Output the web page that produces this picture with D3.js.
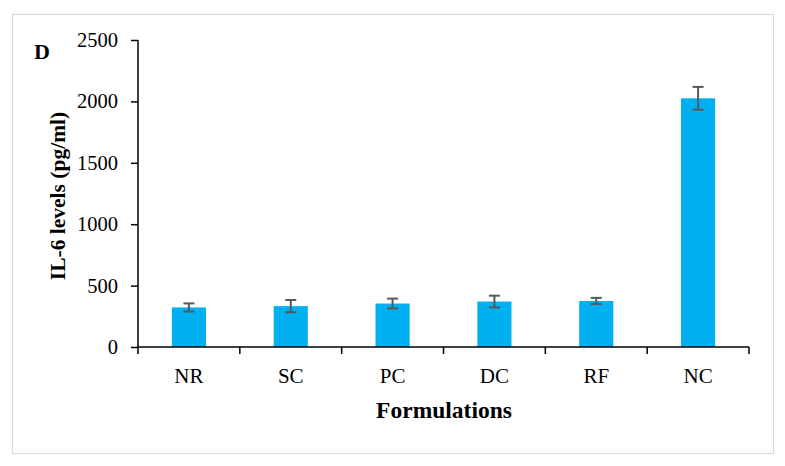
<!DOCTYPE html>
<html>
<head>
<meta charset="utf-8">
<script src="https://cdn.jsdelivr.net/npm/d3@7"></script>
<style>
  html, body { margin: 0; padding: 0; background: #fff; }
  svg { display: block; }
  text { font-family: "Liberation Serif", "Times New Roman", serif; fill: #000; }
</style>
</head>
<body>
<svg id="chart" width="785" height="466"></svg>
<script>
const categories = ["NR", "SC", "PC", "DC", "RF", "NC"];
const values = [322, 333, 354, 370, 375, 2025];
const errors = [33, 50, 40, 48, 25, 93];
const yTicks = [0, 500, 1000, 1500, 2000, 2500];

const svg = d3.select("#chart");
const W = 785, H = 466;
const margin = { left: 138, right: 36, top: 40, bottom: 119 };

svg.append("rect")
  .attr("x", 12.5).attr("y", 14.5)
  .attr("width", 761).attr("height", 439)
  .attr("fill", "#fff")
  .attr("stroke", "#d9d9d9").attr("stroke-width", 1.2);

const x = d3.scaleBand()
  .domain(categories)
  .range([margin.left, W - margin.right])
  .paddingInner(0.665).paddingOuter(0.3325);

const xTickScale = d3.scaleBand().domain(categories).range([margin.left, W - margin.right]);

const y = d3.scaleLinear().domain([0, 2500]).range([H - margin.bottom, margin.top]);

// bars
svg.selectAll("rect.bar")
  .data(values)
  .enter().append("rect")
  .attr("class", "bar")
  .attr("x", (d, i) => x(categories[i]))
  .attr("width", x.bandwidth())
  .attr("y", d => y(d))
  .attr("height", d => y(0) - y(d))
  .attr("fill", "#00B0F0");

// error bars
const eb = svg.append("g").attr("stroke", "#595959").attr("stroke-width", 2);
values.forEach((v, i) => {
  const cx = x(categories[i]) + x.bandwidth() / 2;
  eb.append("line").attr("x1", cx).attr("x2", cx).attr("y1", y(v + errors[i])).attr("y2", y(v - errors[i]));
  eb.append("line").attr("x1", cx - 5.5).attr("x2", cx + 5.5).attr("y1", y(v + errors[i])).attr("y2", y(v + errors[i]));
  eb.append("line").attr("x1", cx - 5.5).attr("x2", cx + 5.5).attr("y1", y(v - errors[i])).attr("y2", y(v - errors[i]));
});

// y axis
const yAxis = d3.axisLeft(y).tickValues(yTicks).tickFormat(d3.format("d")).tickSize(7).tickPadding(13).tickSizeOuter(0);
const gy = svg.append("g").attr("transform", `translate(${margin.left},0)`).call(yAxis);
gy.select(".domain").attr("stroke", "#000").attr("stroke-width", 1.5)
  .attr("d", `M0,${y(0)}V${y(2500)}`);
gy.selectAll(".tick line").attr("stroke", "#000").attr("stroke-width", 1.5);
gy.selectAll(".tick text").style("font-family", '"Liberation Serif", serif').style("font-size", "20.5px").attr("fill", "#000");

// x axis with ticks at band boundaries
const gx = svg.append("g").attr("transform", `translate(0,${y(0)})`);
gx.append("line").attr("x1", margin.left).attr("x2", W - margin.right).attr("y1", 0).attr("y2", 0)
  .attr("stroke", "#000").attr("stroke-width", 1.5);
const boundaries = categories.map(c => xTickScale(c)).concat([W - margin.right]);
gx.selectAll("line.tk").data(boundaries).enter().append("line")
  .attr("class", "tk")
  .attr("x1", d => d).attr("x2", d => d).attr("y1", 0).attr("y2", 7)
  .attr("stroke", "#000").attr("stroke-width", 1.5);
gx.selectAll("text.cat").data(categories).enter().append("text")
  .attr("class", "cat")
  .attr("x", d => x(d) + x.bandwidth() / 2)
  .attr("y", 36)
  .attr("text-anchor", "middle")
  .style("font-size", "21px")
  .text(d => d);

// titles
svg.append("text")
  .attr("x", 444).attr("y", 418)
  .attr("text-anchor", "middle")
  .style("font-size", "23.5px").style("font-weight", "bold")
  .text("Formulations");

svg.append("text")
  .attr("transform", "translate(65,196) rotate(-90)")
  .attr("text-anchor", "middle")
  .style("font-size", "21.5px").style("font-weight", "bold")
  .text("IL-6 levels (pg/ml)");

svg.append("text")
  .attr("x", 34).attr("y", 59)
  .style("font-size", "22px").style("font-weight", "bold")
  .text("D");
</script>
</body>
</html>
